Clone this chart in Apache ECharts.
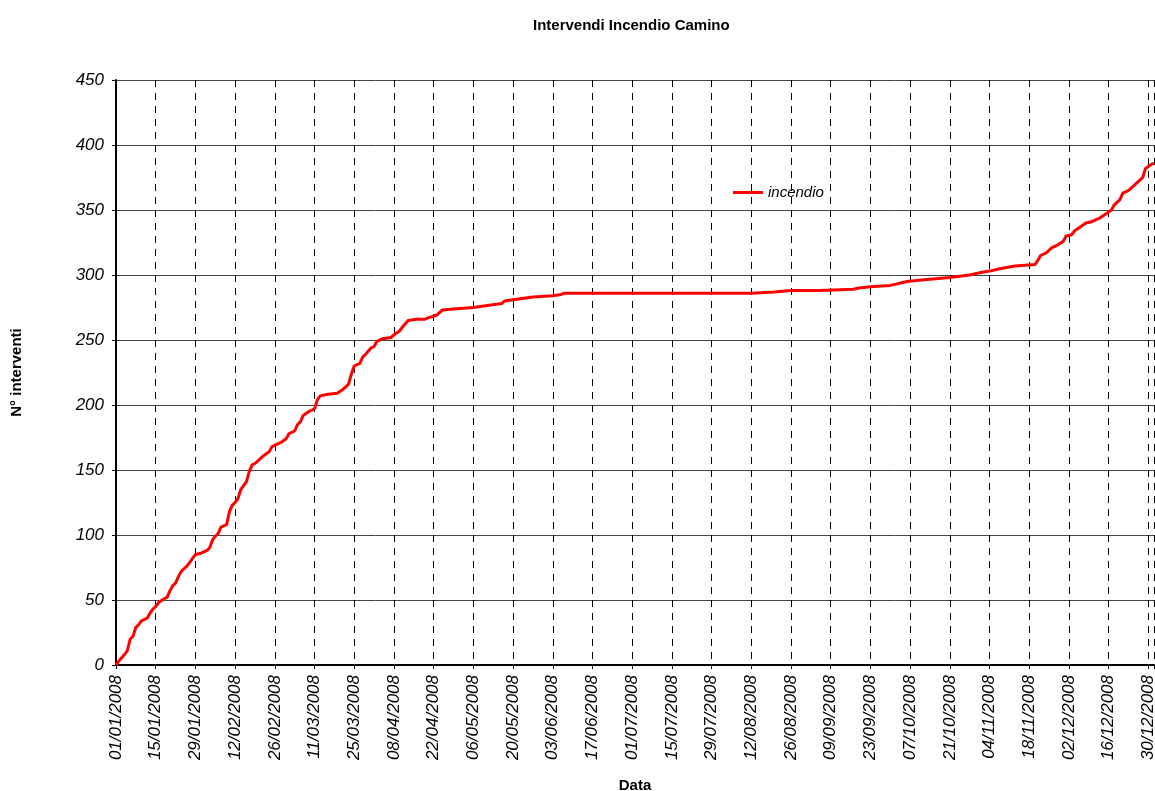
<!DOCTYPE html>
<html>
<head>
<meta charset="utf-8">
<title>Intervendi Incendio Camino</title>
<script src="https://cdn.jsdelivr.net/npm/echarts@6/dist/echarts.min.js"></script>
<style>
  html, body { margin: 0; padding: 0; background: #fff; }
  #chart { width: 1155px; height: 791px; }
</style>
</head>
<body>
<div id="chart"></div>
<script>
// giorni dall'1/1/2008 e numero cumulativo di interventi
const days = [0, 1, 3, 4, 5, 6, 7, 8, 9, 11, 12, 13, 14, 15, 17, 18, 19, 20, 21, 22, 23, 25, 26, 27, 28, 30, 32, 33, 34, 35, 36, 37, 39, 40, 41, 42, 43, 44, 45, 46, 47, 48, 49, 51, 52, 54, 55, 58, 60, 61, 63, 64, 65, 66, 68, 70, 71, 72, 74, 78, 80, 81, 82, 83, 84, 86, 87, 88, 90, 91, 92, 94, 97, 98, 100, 101, 103, 106, 109, 110, 113, 115, 120, 126, 129, 136, 137, 140, 147, 154, 157, 158, 224, 232, 238, 248, 260, 262, 266, 273, 275, 277, 279, 283, 294, 301, 305, 308, 312, 317, 324, 325, 326, 328, 330, 332, 334, 335, 337, 338, 340, 342, 344, 347, 349, 351, 352, 354, 355, 357, 359, 361, 362, 363, 365, 366]
const interventi = [0, 3, 8, 11, 20, 22, 29, 31, 34, 36, 40, 43, 45, 48, 51, 52, 57, 61, 63, 68, 72, 76, 79, 82, 85, 86, 88, 90, 96, 99, 101, 106, 108, 118, 123, 125, 128, 135, 138, 141, 149, 154, 155, 159, 161, 164, 168, 171, 174, 178, 180, 185, 187, 192, 195, 197, 204, 207, 208, 209, 212, 214, 216, 224, 230, 232, 237, 239, 244, 245, 249, 251, 252, 254, 257, 260, 265, 266, 266, 267, 269, 273, 274, 275, 276, 278, 280, 281, 283, 284, 285, 286, 286, 287, 288, 288, 289, 290, 291, 292, 293, 294, 295, 296, 298, 300, 302, 303, 305, 307, 308, 311, 315, 317, 321, 323, 326, 330, 331, 334, 337, 340, 341, 344, 347, 350, 354, 358, 363, 365, 369, 373, 375, 382, 385, 386]
const tickLabels = ['01/01/2008', '15/01/2008', '29/01/2008', '12/02/2008', '26/02/2008', '11/03/2008', '25/03/2008', '08/04/2008', '22/04/2008', '06/05/2008', '20/05/2008', '03/06/2008', '17/06/2008', '01/07/2008', '15/07/2008', '29/07/2008', '12/08/2008', '26/08/2008', '09/09/2008', '23/09/2008', '07/10/2008', '21/10/2008', '04/11/2008', '18/11/2008', '02/12/2008', '16/12/2008', '30/12/2008']

const font = 'Liberation Sans'
const myChart = echarts.init(document.getElementById('chart'))

const option = {
  animation: false,
  textStyle: { fontFamily: font },
  title: {
    text: 'Intervendi Incendio Camino',
    left: 528,
    top: 13,
    textStyle: { fontFamily: font, fontSize: 15, fontWeight: 'bold', color: '#000' }
  },
  legend: {
    left: 728,
    top: 180,
    icon: 'rect',
    itemWidth: 30,
    itemHeight: 3,
    itemGap: 5,
    textStyle: { fontFamily: font, fontSize: 15, fontStyle: 'italic', color: '#000' },
    data: ['incendio']
  },
  grid: {
    left: 116,
    right: 1,
    top: 80,
    bottom: 126,
    outerBoundsMode: 'none'
  },
  xAxis: {
    type: 'value',
    min: 0,
    max: 366,
    interval: 14,
    name: 'Data',
    nameLocation: 'middle',
    nameGap: 113,
    nameTextStyle: { fontFamily: font, fontSize: 15, fontWeight: 'bold', color: '#000' },
    axisLine: { lineStyle: { color: '#000', width: 2 } },
    axisTick: { show: true, length: 4, lineStyle: { color: '#000' } },
    axisLabel: {
      rotate: 90,
      margin: 10,
      fontFamily: font,
      fontSize: 17,
      fontStyle: 'italic',
      color: '#000',
      formatter: function (v) {
        return v % 14 === 0 ? tickLabels[v / 14] : ''
      }
    },
    splitLine: { show: true, lineStyle: { color: '#000', width: 1, type: [7, 6] } }
  },
  yAxis: {
    type: 'value',
    min: 0,
    max: 450,
    interval: 50,
    name: 'N° interventi',
    nameLocation: 'middle',
    nameRotate: 90,
    nameGap: 92,
    nameTextStyle: { fontFamily: font, fontSize: 15, fontWeight: 'bold', color: '#000' },
    axisLine: { show: true, lineStyle: { color: '#000', width: 2 } },
    axisTick: { show: true, length: 4, lineStyle: { color: '#000' } },
    axisLabel: {
      margin: 12,
      fontFamily: font,
      fontSize: 17,
      fontStyle: 'italic',
      color: '#000'
    },
    splitLine: { show: true, lineStyle: { color: '#444', width: 1 } }
  },
  series: [
    {
      name: 'incendio',
      type: 'line',
      symbol: 'none',
      color: '#ff0000',
      lineStyle: { color: '#ff0000', width: 3 },
      data: days.map((d, i) => [d, interventi[i]])
    }
  ]
}

option && myChart.setOption(option)
</script>
</body>
</html>
